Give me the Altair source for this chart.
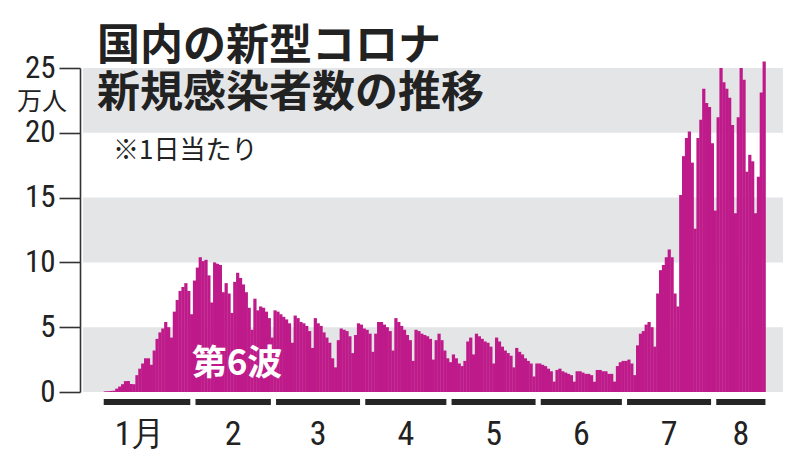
import altair as alt
import pandas as pd

# daily new cases (万人), Jan 1 - Aug 18
jan = [0.05, 0.06, 0.08, 0.1, 0.26, 0.42, 0.6, 0.84, 0.85, 0.62,
       0.6, 1.3, 1.8, 2.2, 2.6, 2.6, 2.1, 3.2, 4.1, 4.6,
       4.9, 5.4, 5.0, 4.2, 6.2, 7.1, 7.8, 8.1, 8.4, 7.8, 6.0]
feb = [8.6, 9.6, 10.4, 10.1, 10.2, 9.0, 6.9, 10.0, 9.9, 9.8,
       7.7, 8.4, 7.6, 6.1, 8.5, 9.2, 8.8, 8.3, 7.7, 6.5,
       4.8, 7.2, 6.3, 6.6, 6.5, 6.2, 5.7, 4.2]
mar = [6.3, 6.2, 6.0, 5.8, 5.6, 5.3, 3.8, 5.9, 5.7, 5.4,
       5.3, 5.1, 4.7, 3.4, 5.7, 5.3, 5.1, 4.6, 4.2, 3.8,
       2.6, 1.9, 4.0, 4.9, 4.8, 4.7, 4.3, 3.0, 4.4, 5.3, 5.2]
apr = [4.9, 4.8, 4.5, 3.1, 4.5, 5.4, 5.4, 5.2, 5.0, 4.7,
       3.2, 5.7, 5.4, 5.1, 4.8, 4.4, 4.0, 2.4, 4.8, 4.7,
       4.5, 4.4, 4.3, 4.1, 2.5, 4.0, 4.5, 4.0, 3.2, 2.6]
may = [2.3, 2.9, 2.6, 2.2, 2.0, 2.4, 3.9, 4.2, 2.9, 4.5,
       4.3, 4.1, 3.9, 3.8, 3.5, 2.2, 4.2, 3.9, 3.5, 3.2,
       3.0, 2.8, 1.9, 3.4, 3.1, 2.9, 2.6, 2.4, 2.2, 1.2, 2.2]
jun = [2.2, 2.1, 2.0, 1.8, 1.6, 0.8, 1.7, 1.8, 1.6, 1.5,
       1.4, 1.3, 0.8, 1.6, 1.6, 1.5, 1.4, 1.4, 1.3, 0.8,
       1.7, 1.7, 1.6, 1.6, 1.4, 1.4, 0.8, 2.0, 2.3, 2.4]
jul = [2.4, 2.5, 2.2, 1.3, 3.6, 4.5, 4.7, 5.2, 5.4, 5.0,
       3.5, 7.6, 9.4, 9.8, 10.4, 11.0, 10.4, 7.6, 6.6, 15.2,
       18.2, 19.6, 20.1, 17.7, 12.6, 19.6, 21.0, 23.4, 22.3, 22.0, 19.2]
aug = [14.0, 21.2, 25.0, 23.9, 23.4, 22.7, 20.6, 13.8, 21.2, 25.0,
       24.1, 17.0, 18.3, 17.8, 13.8, 16.6, 23.1, 25.5]

month_labels = ["1月", "2", "3", "4", "5", "6", "7", "8"]
month_days = [31, 28, 31, 30, 31, 30, 31, 18]
y_ticks = [0, 5, 10, 15, 20, 25]
band_lo = [0, 10, 20]
band_hi = [5, 15, 25]

title1 = "国内の新型コロナ"
title2 = "新規感染者数の推移"
subtitle = "※1日当たり"
unit = "万人"
wave = "第6波"

values = jan + feb + mar + apr + may + jun + jul + aug
df = pd.DataFrame({"i": list(range(len(values))), "v": values})
df["i2"] = df["i"] + 1.12  # slight overlap removes antialias seams

# month segments
starts, ends = [], []
cum = 0
for k, d in enumerate(month_days):
    s, e = cum, cum + d
    starts.append(s + (0 if k == 0 else 0.9))
    ends.append(e - (0 if k == len(month_days) - 1 else 0.9))
    cum = e
mdf = pd.DataFrame({"m": month_labels, "s": starts, "e": ends})
mdf["c"] = (mdf["s"] + mdf["e"]) / 2

W, H = 700, 324
MAG = "#BE1A8A"
FONT = "Noto Sans CJK JP"
NUMFONT = "Liberation Sans Narrow, Roboto Condensed, Liberation Sans, Arial"

xs = alt.Scale(domain=[-7.2, 236.1], nice=False, zero=False)
ys = alt.Scale(domain=[0, 25], nice=False)

bands = alt.Chart(pd.DataFrame({"lo": band_lo, "hi": band_hi})).mark_rect(
    color="#e4e5e7"
).encode(
    x=alt.value(0), x2=alt.value(W),
    y=alt.Y("lo:Q", scale=ys, axis=alt.Axis(
        values=y_ticks, title=None, grid=False, offset=3,
        domainColor="#333", domainWidth=1.6, tickColor="#333", tickWidth=1.6,
        tickSize=21, labelPadding=4, labelFontSize=31, labelFont=NUMFONT,
        labelColor="#222", labelBaseline="middle")),
    y2="hi:Q",
)

bars = alt.Chart(df).mark_rect(color=MAG).encode(
    x=alt.X("i:Q", scale=xs, axis=None),
    x2="i2:Q",
    y=alt.Y("v:Q", scale=ys),
    y2=alt.value(H),
)

mbars = alt.Chart(mdf).mark_rect(color="#262626").encode(
    x=alt.X("s:Q", scale=xs), x2="e:Q",
    y=alt.value(H + 7), y2=alt.value(H + 13),
)

mlab_first = alt.Chart(mdf.iloc[:1]).mark_text(
    font=NUMFONT, fontSize=34, color="#222", baseline="middle", dx=-7
).encode(x=alt.X("c:Q", scale=xs), y=alt.value(H + 43), text="m:N")
mlab_rest = alt.Chart(mdf.iloc[1:]).mark_text(
    font=NUMFONT, fontSize=34, color="#222", baseline="middle"
).encode(x=alt.X("c:Q", scale=xs), y=alt.value(H + 43), text="m:N")


def label(txt, x, y, size, weight="normal", color="#222", align="left", font=FONT):
    return alt.Chart(pd.DataFrame({"t": [txt]})).mark_text(
        font=font, fontSize=size, fontWeight=weight, color=color,
        align=align, baseline="middle"
    ).encode(x=alt.value(x), y=alt.value(y), text="t:N")


texts = [
    label(title1, 14, -21, 43, "bold"),
    label(title2, 14, 26, 43, "bold"),
    label(subtitle, 30, 83, 26, "normal"),
    label(unit, -41, 34, 25, "normal", align="center"),
    label(wave, 154, 296, 35, "bold", color="white", align="center"),
]

chart = alt.layer(bands, bars, mbars, mlab_first, mlab_rest, *texts).properties(
    width=W, height=H,
    padding={"left": 75, "top": 60, "right": 9, "bottom": 65},
    autosize="none",
    background="white",
).configure_view(stroke="transparent")

chart.save("out.html", embed_options={"renderer": "svg", "actions": False})
